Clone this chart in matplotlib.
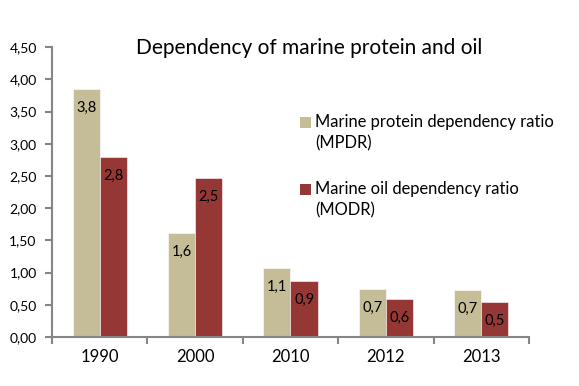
import matplotlib
matplotlib.use("Agg")
import matplotlib.pyplot as plt
import numpy as np
from matplotlib.patches import Rectangle

years = ["1990", "2000", "2010", "2012", "2013"]
mpdr = [3.85, 1.61, 1.07, 0.74, 0.73]
modr = [2.79, 2.47, 0.87, 0.59, 0.54]
mpdr_labels = ["3,8", "1,6", "1,1", "0,7", "0,7"]
modr_labels = ["2,8", "2,5", "0,9", "0,6", "0,5"]
yticks = [0, 0.5, 1.0, 1.5, 2.0, 2.5, 3.0, 3.5, 4.0, 4.5]
ytick_labels = ["0,00", "0,50", "1,00", "1,50", "2,00", "2,50", "3,00", "3,50", "4,00", "4,50"]
title = "Dependency of marine protein and oil"
legend_lines = [["Marine protein dependency ratio", "(MPDR)"],
                ["Marine oil dependency ratio", "(MODR)"]]

c1 = "#c4bd97"
c2 = "#953735"
axc = "#868686"
font = ["Lato", "DejaVu Sans"]

W, H = 579, 386
fig = plt.figure(figsize=(W / 100, H / 100), dpi=100)
ax = fig.add_axes([0.0898, 0.127, 0.8238, 0.751])

x = np.arange(len(years))
w = 0.285
b1 = ax.bar(x - w / 2, mpdr, w, color=c1, edgecolor="white", linewidth=0.4)
b2 = ax.bar(x + w / 2, modr, w, color=c2, edgecolor="white", linewidth=0.4)

for rect, lab in zip(b1, mpdr_labels):
    ax.annotate(lab, (rect.get_x() + rect.get_width() / 2, rect.get_height()),
                xytext=(0, -13.5), textcoords="offset points", ha="center", va="center",
                fontsize=10.5, family=font, color="black")
for rect, lab in zip(b2, modr_labels):
    ax.annotate(lab, (rect.get_x() + rect.get_width() / 2, rect.get_height()),
                xytext=(0, -13.5), textcoords="offset points", ha="center", va="center",
                fontsize=10.5, family=font, color="black")

ax.set_xlim(-0.5, len(years) - 0.5)
ax.set_ylim(0, 4.5)
ax.set_yticks(yticks)
ax.set_yticklabels(ytick_labels, family=font, fontsize=10)
ax.set_xticks(x)
ax.set_xticklabels(years, family=font, fontsize=12)
ax.set_xticks(np.arange(-0.5, len(years)), minor=True)
ax.tick_params(axis="x", which="major", length=0, pad=9)
ax.tick_params(axis="x", which="minor", length=5, color=axc, width=1.5)
ax.tick_params(axis="y", length=5, color=axc, width=1.5, pad=6)

for s in ["top", "right"]:
    ax.spines[s].set_visible(False)
for s in ["left", "bottom"]:
    ax.spines[s].set_color(axc)
    ax.spines[s].set_linewidth(1.5)

fig.text(309 / W, 1 - 48 / H, title, ha="center", va="center", fontsize=15, family=font)

# legend drawn manually (square aligned with first line of each entry)
entry_y = [122, 189]
for col, lines, yy in zip([c1, c2], legend_lines, entry_y):
    fig.patches.append(Rectangle((300 / W, 1 - (yy + 5.5) / H), 11 / W, 11 / H,
                                 transform=fig.transFigure, facecolor=col, edgecolor="none"))
    for i, line in enumerate(lines):
        fig.text(315 / W, 1 - (yy + 21.5 * i) / H, line, ha="left", va="center",
                 fontsize=11.9, family=font)

fig.savefig("out.png", dpi=100)
